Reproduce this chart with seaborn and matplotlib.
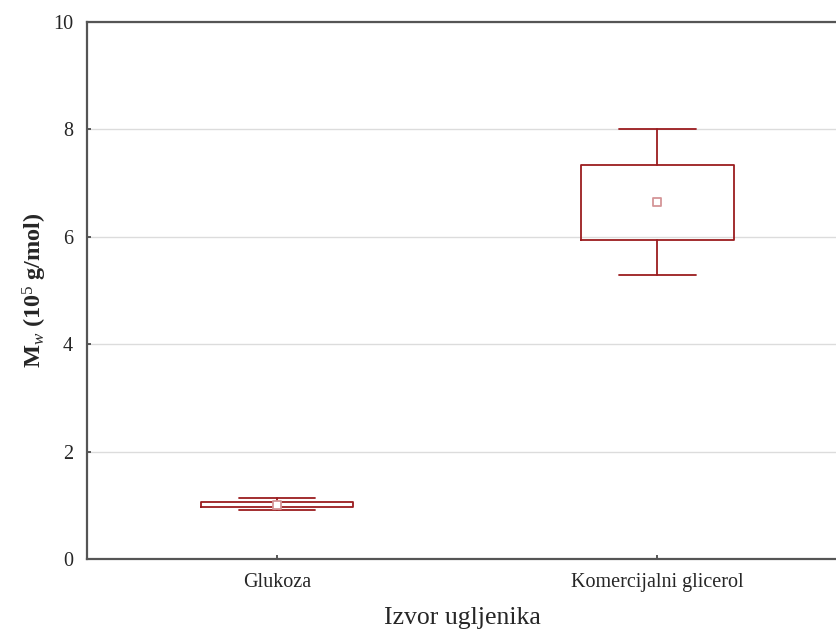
import matplotlib
matplotlib.use("Agg")
import matplotlib.pyplot as plt
import seaborn as sns
import pandas as pd

categories = ["Glukoza", "Komercijalni glicerol"]
means = [1.01, 6.65]
box_low = [0.96, 5.94]
box_high = [1.07, 7.34]
whisker_low = [0.91, 5.29]
whisker_high = [1.13, 8.00]
y_ticks = [0, 2, 4, 6, 8, 10]

sns.set_theme(style="white")
plt.rcParams["font.family"] = ["Liberation Serif", "DejaVu Serif"]
plt.rcParams["mathtext.fontset"] = "custom"
plt.rcParams["mathtext.rm"] = "Liberation Serif"
plt.rcParams["mathtext.it"] = "Liberation Serif:italic"
plt.rcParams["mathtext.bf"] = "Liberation Serif:bold"

red = "#9b1c1f"
fig = plt.figure(figsize=(8.37, 6.32), dpi=100)
ax = fig.add_axes([87 / 837, 1 - 559 / 632, 1 - 87 / 837, (559 - 22) / 632])

ax.yaxis.grid(True, color="#dcdcdc", linewidth=1.0)
ax.set_axisbelow(True)

stats = []
for i, c in enumerate(categories):
    stats.append(dict(label=c, med=means[i], q1=box_low[i], q3=box_high[i],
                      whislo=whisker_low[i], whishi=whisker_high[i], fliers=[]))
ax.bxp(stats, positions=[0, 1], widths=0.4, capwidths=0.2, showfliers=False,
       boxprops=dict(color=red, linewidth=1.3),
       whiskerprops=dict(color=red, linewidth=1.3),
       capprops=dict(color=red, linewidth=1.3),
       medianprops=dict(visible=False), zorder=3)

df = pd.DataFrame({"cat": [0, 1], "mean": means})
sns.scatterplot(data=df, x="cat", y="mean", ax=ax, marker="s", s=26,
                facecolor="white", edgecolor="#d49597", linewidth=1.3, zorder=4,
                legend=False)

ax.set_xlim(-0.5, 1.472)
ax.set_ylim(0, 10)
ax.set_yticks(y_ticks)
ax.set_xticks([0, 1])
ax.set_xticklabels(categories, fontsize=14.5)
ax.tick_params(axis="y", labelsize=14.5, direction="in", length=3, color="#444444",
               left=True, pad=10)
ax.tick_params(axis="x", direction="in", length=3, color="#444444", bottom=True, pad=10)

for s in ["left", "bottom", "top"]:
    ax.spines[s].set_color("#555555")
    ax.spines[s].set_linewidth(1.6)
ax.spines["right"].set_visible(False)

ax.set_xlabel("Izvor ugljenika", fontsize=18.5, labelpad=11)
ax.set_ylabel(r"M$_{\mathit{w}}$ (10$^{5}$ g/mol)", fontsize=17.5, fontweight="bold", labelpad=3)

fig.savefig("out.png", dpi=100)
